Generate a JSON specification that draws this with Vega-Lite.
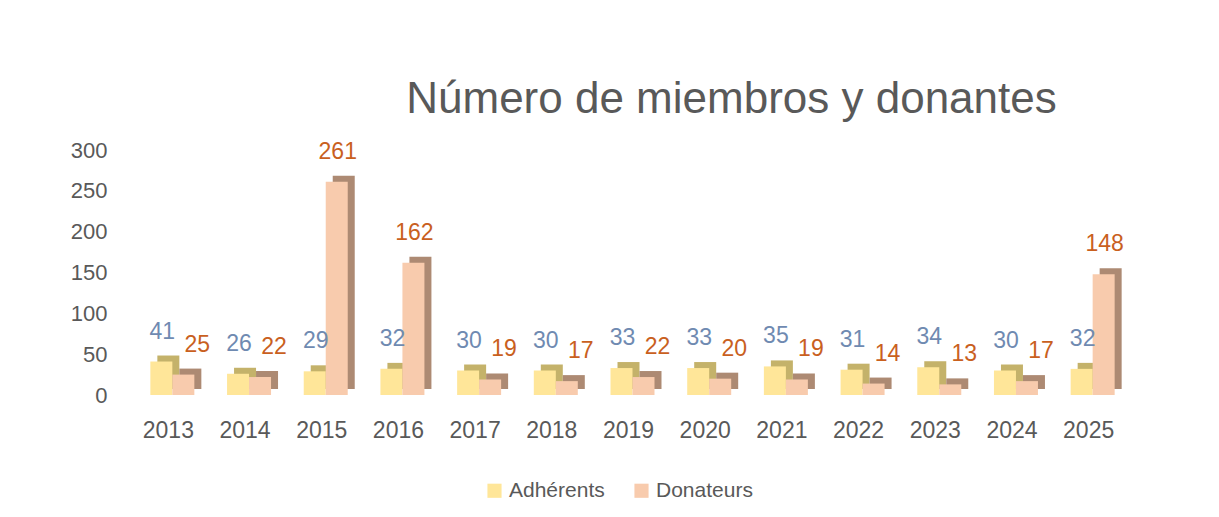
{
  "$schema": "https://vega.github.io/schema/vega-lite/v6.json",
  "autosize": "none",
  "width": 997,
  "height": 245,
  "padding": {"left": 130, "top": 150, "right": 92, "bottom": 122},
  "background": "white",
  "title": {
    "text": "Número de miembros y donantes",
    "font": "Liberation Sans",
    "fontSize": 44,
    "fontWeight": "normal",
    "color": "#595959",
    "anchor": "middle",
    "dx": 103,
    "offset": 17
  },
  "data": {
    "values": [
      {"year": "2013", "series": "Adhérents", "value": 41},
      {"year": "2013", "series": "Donateurs", "value": 25},
      {"year": "2014", "series": "Adhérents", "value": 26},
      {"year": "2014", "series": "Donateurs", "value": 22},
      {"year": "2015", "series": "Adhérents", "value": 29},
      {"year": "2015", "series": "Donateurs", "value": 261},
      {"year": "2016", "series": "Adhérents", "value": 32},
      {"year": "2016", "series": "Donateurs", "value": 162},
      {"year": "2017", "series": "Adhérents", "value": 30},
      {"year": "2017", "series": "Donateurs", "value": 19},
      {"year": "2018", "series": "Adhérents", "value": 30},
      {"year": "2018", "series": "Donateurs", "value": 17},
      {"year": "2019", "series": "Adhérents", "value": 33},
      {"year": "2019", "series": "Donateurs", "value": 22},
      {"year": "2020", "series": "Adhérents", "value": 33},
      {"year": "2020", "series": "Donateurs", "value": 20},
      {"year": "2021", "series": "Adhérents", "value": 35},
      {"year": "2021", "series": "Donateurs", "value": 19},
      {"year": "2022", "series": "Adhérents", "value": 31},
      {"year": "2022", "series": "Donateurs", "value": 14},
      {"year": "2023", "series": "Adhérents", "value": 34},
      {"year": "2023", "series": "Donateurs", "value": 13},
      {"year": "2024", "series": "Adhérents", "value": 30},
      {"year": "2024", "series": "Donateurs", "value": 17},
      {"year": "2025", "series": "Adhérents", "value": 32},
      {"year": "2025", "series": "Donateurs", "value": 148}
    ]
  },
  "encoding": {
    "x": {
      "field": "year",
      "type": "nominal",
      "scale": {"paddingInner": 0.426, "paddingOuter": 0.213},
      "axis": {
        "title": null,
        "labelAngle": 0,
        "domain": false,
        "ticks": false,
        "labelPadding": 24,
        "labelFont": "Liberation Sans",
        "labelFontSize": 23,
        "labelColor": "#595959"
      }
    },
    "y": {
      "field": "value",
      "type": "quantitative",
      "scale": {"domain": [0, 300], "nice": false},
      "axis": {
        "title": null,
        "values": [0, 50, 100, 150, 200, 250, 300],
        "grid": false,
        "domain": false,
        "ticks": false,
        "labelPadding": 23,
        "labelFont": "Liberation Sans",
        "labelFontSize": 22,
        "labelColor": "#595959"
      }
    }
  },
  "layer": [
    {
      "transform": [{"filter": "datum.series == 'Adhérents'"}],
      "mark": {"type": "bar", "width": 22, "xOffset": 0, "yOffset": -6, "fill": "#C4B26A"}
    },
    {
      "transform": [{"filter": "datum.series == 'Donateurs'"}],
      "mark": {"type": "bar", "width": 22, "xOffset": 22, "yOffset": -6, "fill": "#AD8A73"}
    },
    {
      "transform": [{"filter": "datum.series == 'Adhérents'"}],
      "mark": {"type": "bar", "width": 22, "xOffset": -7},
      "encoding": {
        "color": {
          "field": "series",
          "type": "nominal",
          "scale": {"domain": ["Adhérents", "Donateurs"], "range": ["#FFE699", "#F8CBAD"]},
          "legend": {
            "title": null,
            "orient": "none",
            "legendX": 354,
            "legendY": 330,
            "direction": "horizontal",
            "symbolType": "square",
            "symbolSize": 200,
            "symbolStrokeWidth": 0,
            "labelFont": "Liberation Sans",
            "labelFontSize": 21,
            "labelColor": "#595959",
            "columnPadding": 26
          }
        }
      }
    },
    {
      "transform": [{"filter": "datum.series == 'Donateurs'"}],
      "mark": {"type": "bar", "width": 22, "xOffset": 15},
      "encoding": {
        "color": {"field": "series", "type": "nominal"}
      }
    },
    {
      "transform": [{"filter": "datum.series == 'Adhérents'"}],
      "mark": {"type": "text", "baseline": "middle", "dx": -6, "dy": -30, "font": "Liberation Sans", "fontSize": 23, "color": "#6F8AB1"},
      "encoding": {"text": {"field": "value", "type": "quantitative"}}
    },
    {
      "transform": [{"filter": "datum.series == 'Donateurs' && datum.value < 100"}],
      "mark": {"type": "text", "baseline": "middle", "dy": -30, "dx": 29, "font": "Liberation Sans", "fontSize": 23, "color": "#C9601E"},
      "encoding": {"text": {"field": "value", "type": "quantitative"}}
    },
    {
      "transform": [{"filter": "datum.series == 'Donateurs' && datum.value >= 100"}],
      "mark": {"type": "text", "baseline": "middle", "dy": -30, "dx": 16, "font": "Liberation Sans", "fontSize": 23, "color": "#C9601E"},
      "encoding": {"text": {"field": "value", "type": "quantitative"}}
    }
  ],
  "config": {"view": {"stroke": null}}
}
